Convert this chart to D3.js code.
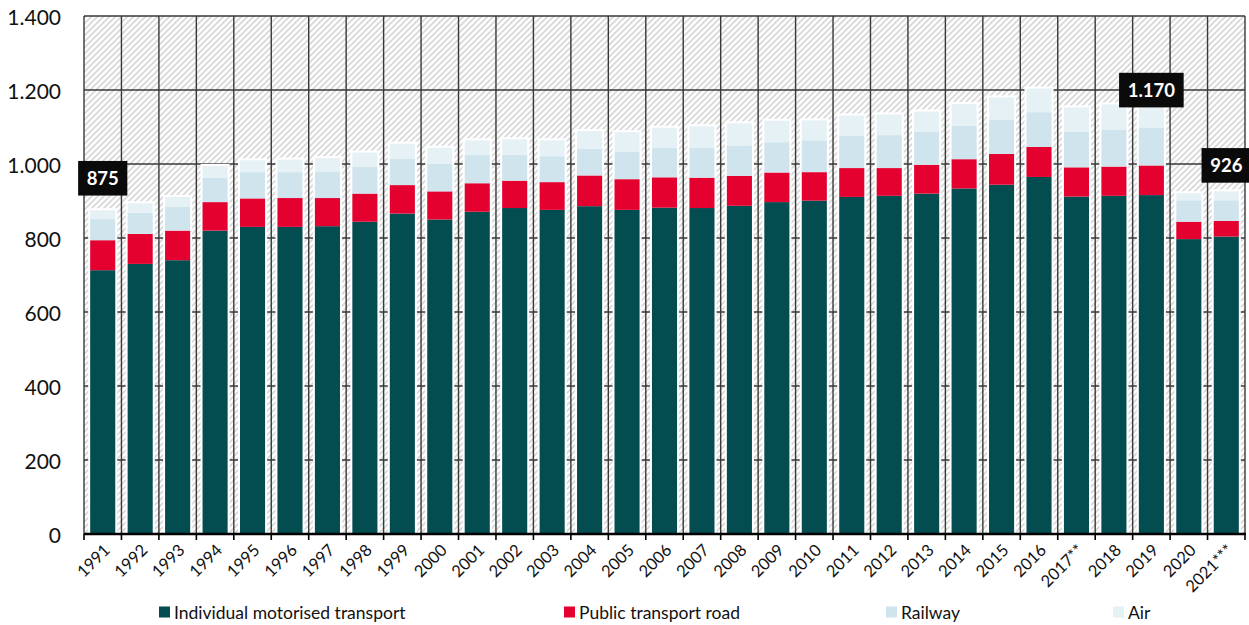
<!DOCTYPE html>
<html>
<head>
<meta charset="utf-8">
<script src="https://cdn.jsdelivr.net/npm/d3@7"></script>
<style>
  html, body { margin: 0; padding: 0; background: #ffffff; }
  svg { display: block; font-family: Lato, "Open Sans", sans-serif; }
</style>
</head>
<body>
<svg id="chart" width="1249" height="625"></svg>
<script>
// Passenger transport performance by mode (billion passenger-km)
const years = ["1991","1992","1993","1994","1995","1996","1997","1998","1999","2000",
  "2001","2002","2003","2004","2005","2006","2007","2008","2009","2010",
  "2011","2012","2013","2014","2015","2016","2017**","2018","2019","2020","2021***"];

const individualMotorised = [713,730,740,820,830,830,832,844,866,850,
  871,881,876,886,876,882,881,887,897,901,
  911,914,920,934,944,965,912,914,916,797,804];
const publicRoad = [81,81,80,77,77,78,76,76,77,76,
  77,74,75,83,83,82,82,81,80,77,
  78,75,78,79,83,81,79,79,80,47,42];
const railway = [57,57,64,66,71,70,72,72,72,75,
  76,70,70,72,75,79,80,82,82,86,
  87,89,90,90,92,94,96,99,103,58,56];
const air = [24,26,27,32,32,34,36,39,40,43,
  40,42,43,48,52,55,59,60,58,54,
  55,56,54,59,61,64,66,69,71,19,24];

const seriesNames = ["Individual motorised transport", "Public transport road", "Railway", "Air"];
const yTicks = [0, 200, 400, 600, 800, 1000, 1200, 1400];

// Years whose totals are called out, with vertical offset of the callout box
const callouts = [
  { year: "1991", dy: -32 },
  { year: "2019", dy: -11 },
  { year: "2021***", dy: -26 }
];

const colors = ["#034d51", "#e4002f", "#cfe4ec", "#e6f1f5"];

const svg = d3.select("#chart");
const margin = { left: 84, right: 4, top: 16, bottom: 91 };
const W = 1249, H = 625;
const x0 = margin.left, x1 = W - margin.right, y0 = H - margin.bottom, y1 = margin.top;

const fmt = d3.formatLocale({ decimal: ",", thousands: ".", grouping: [3], currency: ["", "€"] }).format(",d");

const x = d3.scaleBand().domain(years).range([x0, x1]).paddingInner(0.33).paddingOuter(0.165);
const y = d3.scaleLinear().domain([0, 1400]).range([y0, y1]);

// Hatched plot background
const defs = svg.append("defs");
const pat = defs.append("pattern")
  .attr("id", "hatch").attr("patternUnits", "userSpaceOnUse")
  .attr("width", 6).attr("height", 6);
pat.append("rect").attr("width", 6).attr("height", 6).attr("fill", "#ffffff");
pat.append("path")
  .attr("d", "M-1,1 l2,-2 M0,6 l6,-6 M5,7 l2,-2")
  .attr("stroke", "#d8d8d8").attr("stroke-width", 1.8);

svg.append("rect")
  .attr("x", x0).attr("y", y1).attr("width", x1 - x0).attr("height", y0 - y1)
  .attr("fill", "url(#hatch)");

// Horizontal gridlines
svg.append("g").selectAll("line").data(yTicks.filter(d => d > 0)).join("line")
  .attr("x1", x0).attr("x2", x1)
  .attr("y1", d => y(d)).attr("y2", d => y(d))
  .attr("stroke", "#383838").attr("stroke-width", 1.4);

// Vertical gridlines at category boundaries
const step = x.step();
const boundaries = d3.range(1, years.length + 1).map(i => x0 + i * step);
svg.append("g").selectAll("line").data(boundaries).join("line")
  .attr("x1", d => d).attr("x2", d => d)
  .attr("y1", y1).attr("y2", y0)
  .attr("stroke", "#383838").attr("stroke-width", 1.4);

// Stacked bars
const rows = years.map((yr, i) => ({
  year: yr,
  s0: individualMotorised[i], s1: publicRoad[i], s2: railway[i], s3: air[i]
}));
const stack = d3.stack().keys(["s0", "s1", "s2", "s3"])(rows);

// White halo behind each bar
svg.append("g").selectAll("rect").data(rows).join("rect")
  .attr("x", d => x(d.year) - 2)
  .attr("width", x.bandwidth() + 4)
  .attr("y", d => y(d.s0 + d.s1 + d.s2 + d.s3) - 2)
  .attr("height", d => y(0) - y(d.s0 + d.s1 + d.s2 + d.s3) + 2)
  .attr("fill", "#ffffff");

svg.append("g").selectAll("g").data(stack).join("g")
  .attr("fill", (d, i) => colors[i])
  .selectAll("rect").data(d => d).join("rect")
  .attr("x", d => x(d.data.year))
  .attr("width", x.bandwidth())
  .attr("y", d => y(d[1]))
  .attr("height", d => y(d[0]) - y(d[1]));

// Left axis line
svg.append("line").attr("x1", x0).attr("x2", x0).attr("y1", y1).attr("y2", y0)
  .attr("stroke", "#383838").attr("stroke-width", 1.4);

// Bottom axis with tick marks at category boundaries
svg.append("line").attr("x1", x0).attr("x2", x1 + 1).attr("y1", y0).attr("y2", y0)
  .attr("stroke", "#000").attr("stroke-width", 2.4);
svg.append("g").selectAll("line").data([x0].concat(boundaries)).join("line")
  .attr("x1", d => d).attr("x2", d => d)
  .attr("y1", y0).attr("y2", y0 + 6)
  .attr("stroke", "#000").attr("stroke-width", 1.6);

// Y tick labels
svg.append("g").selectAll("text").data(yTicks).join("text")
  .attr("x", 61).attr("y", d => y(d))
  .attr("text-anchor", "end").attr("dominant-baseline", "central")
  .attr("font-size", 21).attr("fill", "#111")
  .text(d => fmt(d));

// X tick labels, rotated
svg.append("g").selectAll("text").data(years).join("text")
  .attr("transform", d => `translate(${x(d) + x.bandwidth() / 2 + 4},${y0 + 13}) rotate(-45)`)
  .attr("text-anchor", "end").attr("dominant-baseline", "central")
  .attr("font-size", 16.5).attr("fill", "#111")
  .text(d => d);

// Callouts with the total of the bar
const totals = new Map(rows.map(d => [d.year, d.s0 + d.s1 + d.s2 + d.s3]));
const cg = svg.append("g").selectAll("g").data(callouts).join("g")
  .attr("transform", d => `translate(${x(d.year) + x.bandwidth() / 2},${y(totals.get(d.year)) + d.dy})`);
cg.append("text")
  .attr("text-anchor", "middle").attr("dominant-baseline", "central")
  .attr("font-size", 18.5).attr("font-weight", "bold").attr("fill", "#fff")
  .text(d => fmt(totals.get(d.year)));
cg.each(function () {
  const g = d3.select(this);
  const bb = g.select("text").node().getBBox();
  const w = bb.width + 17;
  g.insert("rect", "text")
    .attr("x", -w / 2).attr("y", -17.3).attr("width", w).attr("height", 34.6)
    .attr("fill", "#0a0a0a");
});

// Legend
const legendX = [174, 579, 901, 1128];
const lg = svg.append("g").selectAll("g").data(seriesNames).join("g")
  .attr("transform", (d, i) => `translate(${legendX[i]},612)`);
lg.append("rect").attr("x", -15).attr("y", -5.5).attr("width", 11).attr("height", 11)
  .attr("fill", (d, i) => colors[i]);
lg.append("text").attr("dominant-baseline", "central")
  .attr("font-size", 17.5).attr("fill", "#111")
  .text(d => d);
</script>
</body>
</html>
